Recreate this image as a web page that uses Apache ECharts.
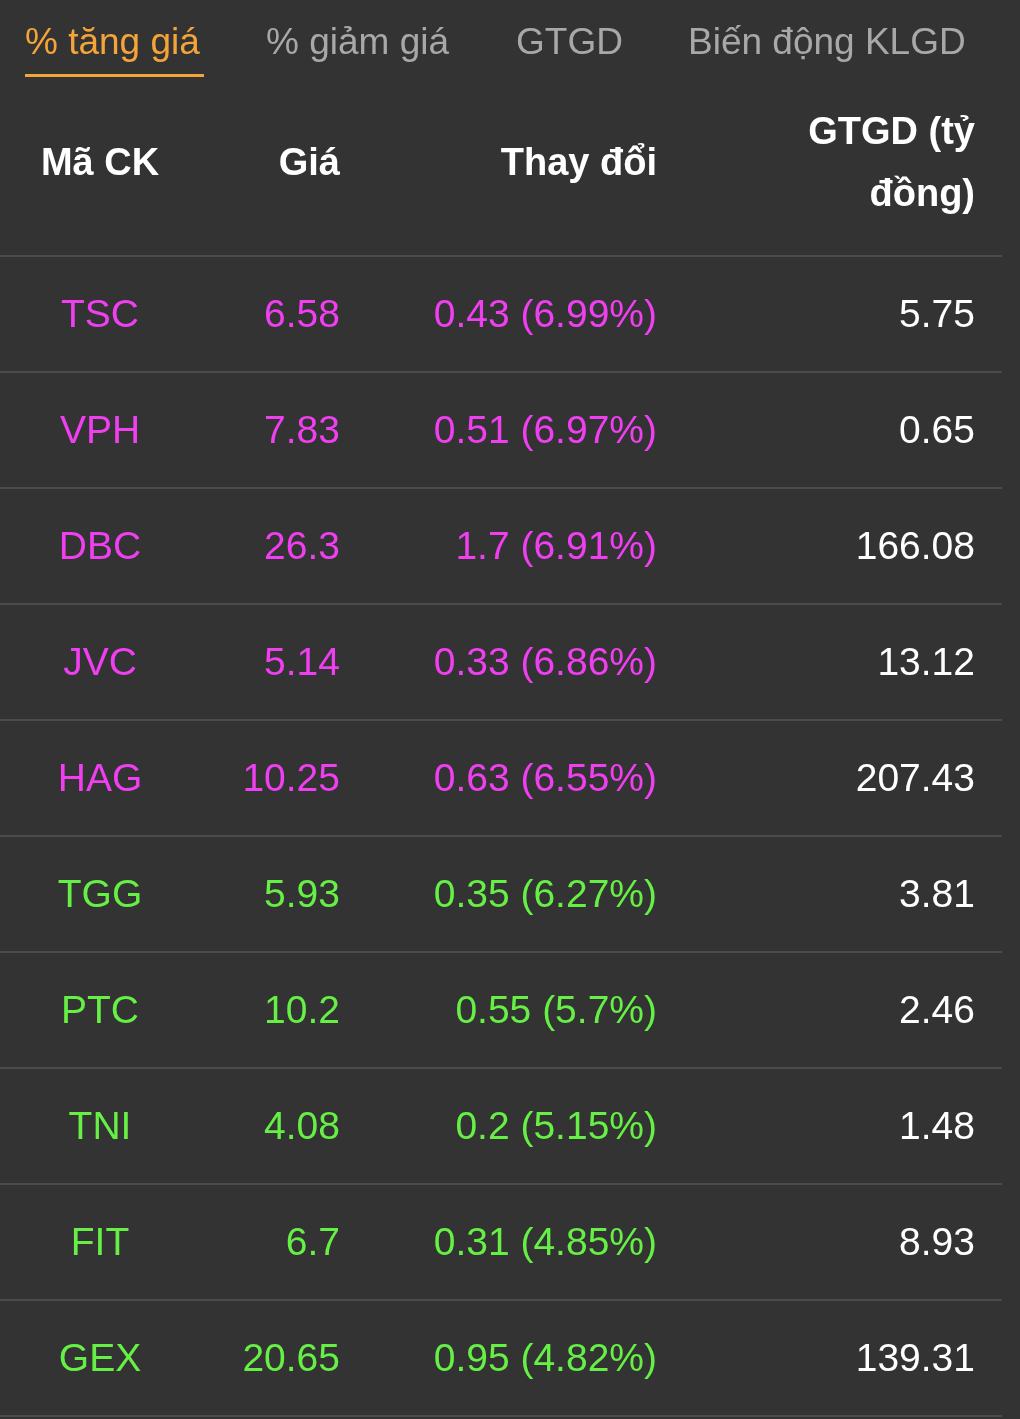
<!DOCTYPE html>
<html>
<head>
<meta charset="utf-8">
<script src="https://cdn.jsdelivr.net/npm/echarts@6/dist/echarts.min.js"></script>
<style>
  html, body { margin: 0; padding: 0; background: #333333; }
  #table { width: 1020px; height: 1419px; }
</style>
</head>
<body>
<div id="table"></div>
<script>
// tabs and header
const tabs = ['% tăng giá', '% giảm giá', 'GTGD', 'Biến động KLGD'];
const headers = ['Mã CK', 'Giá', 'Thay đổi', 'GTGD (tỷ\nđồng)'];

// rows
const codes = ['TSC', 'VPH', 'DBC', 'JVC', 'HAG', 'TGG', 'PTC', 'TNI', 'FIT', 'GEX'];
const prices = ['6.58', '7.83', '26.3', '5.14', '10.25', '5.93', '10.2', '4.08', '6.7', '20.65'];
const changes = ['0.43', '0.51', '1.7', '0.33', '0.63', '0.35', '0.55', '0.2', '0.31', '0.95'];
const changePct = ['6.99%', '6.97%', '6.91%', '6.86%', '6.55%', '6.27%', '5.7%', '5.15%', '4.85%', '4.82%'];
const tradeValue = ['5.75', '0.65', '166.08', '13.12', '207.43', '3.81', '2.46', '1.48', '8.93', '139.31'];
const isCeiling = [true, true, true, true, true, false, false, false, false, false];

const MAGENTA = '#f03ff0';
const GREEN = '#66f046';
const FONT = '"Liberation Sans", Arial, sans-serif';

let chart = echarts.init(document.getElementById('table'));

let tabX = [25, 266, 516, 688];
let graphics = tabs.map(function (t, i) {
  return {
    type: 'text', left: tabX[i], top: 25,
    style: { text: t, fill: i === 0 ? '#f5a43a' : '#a8a8a8', font: '37px ' + FONT }
  };
});
graphics.push({ type: 'rect', shape: { x: 25, y: 74, width: 179, height: 3 }, style: { fill: '#f5a43a' } });
graphics.push({ type: 'text', x: 100, y: 165, style: { text: headers[0], fill: '#fff', font: 'bold 38px ' + FONT, align: 'center', verticalAlign: 'middle' } });
graphics.push({ type: 'text', x: 340, y: 165, style: { text: headers[1], fill: '#fff', font: 'bold 38px ' + FONT, align: 'right', verticalAlign: 'middle' } });
graphics.push({ type: 'text', x: 657, y: 165, style: { text: headers[2], fill: '#fff', font: 'bold 38px ' + FONT, align: 'right', verticalAlign: 'middle' } });
graphics.push({ type: 'text', x: 975, y: 165, style: { text: headers[3], fill: '#fff', font: 'bold 38px ' + FONT, align: 'right', verticalAlign: 'middle', lineHeight: 62 } });

chart.setOption({
  backgroundColor: '#333333',
  animation: false,
  graphic: graphics,
  grid: { left: 0, right: 18, top: 256, height: 1160 },
  xAxis: { type: 'value', min: 0, max: 1, show: false },
  yAxis: {
    type: 'category', inverse: true, data: codes,
    axisLine: { show: false }, axisTick: { show: false }, axisLabel: { show: false },
    splitLine: { show: true, lineStyle: { color: '#4b4b4b', width: 2 } }
  },
  series: [{
    type: 'custom',
    data: codes.map(function (c, i) { return [0, i]; }),
    encode: { x: 0, y: 1 },
    renderItem: function (params, api) {
      let i = params.dataIndex;
      let y = api.coord([0, i])[1] + 2;
      let col = isCeiling[i] ? MAGENTA : GREEN;
      let font = '39px ' + FONT;
      function txt(x, s, align, fill) {
        return { type: 'text', style: { x: x, y: y, text: s, fill: fill, font: font, align: align, verticalAlign: 'middle' } };
      }
      return {
        type: 'group',
        children: [
          txt(100, codes[i], 'center', col),
          txt(340, prices[i], 'right', col),
          txt(657, changes[i] + ' (' + changePct[i] + ')', 'right', col),
          txt(975, tradeValue[i], 'right', '#ffffff')
        ]
      };
    }
  }]
});
</script>
</body>
</html>
